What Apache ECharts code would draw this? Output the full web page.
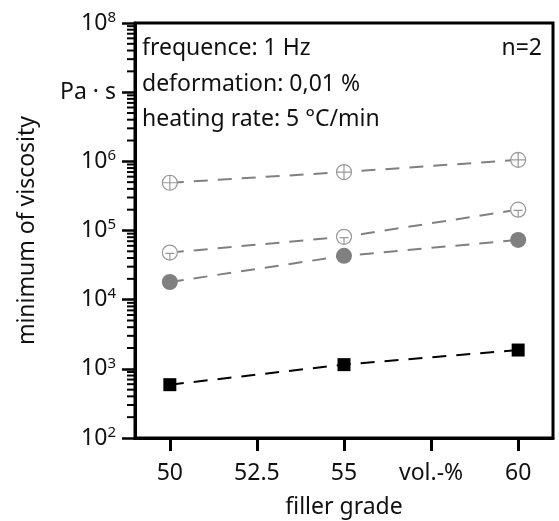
<!DOCTYPE html>
<html>
<head>
<meta charset="utf-8">
<script src="https://cdn.jsdelivr.net/npm/echarts@6/dist/echarts.min.js"></script>
<style>html,body{margin:0;padding:0;background:#fff}#c{width:559px;height:521px}</style>
</head>
<body>
<div id="c"></div>
<script>
// ---- data ----
var xValues = [50, 55, 60];
var crossedCircle = [4.9e5, 7.0e5, 1.05e6];
var openCircle = [4.8e4, 8.1e4, 2.0e5];
var filledCircle = [1.8e4, 4.3e4, 7.3e4];
var squares = [590, 1150, 1870];
var xTickValues = [50, 52.5, 55, 57.5, 60];
var xTickLabels = ['50', '52.5', '55', 'vol.-%', '60'];
var yTickLabels = {100: '10{sup|2}', 1000: '10{sup|3}', 10000: '10{sup|4}', 100000: '10{sup|5}', 1000000: '10{sup|6}', 10000000: 'Pa · s', 100000000: '10{sup|8}'};
var minorTickValues = [];
[100, 1000, 10000, 100000, 1000000, 10000000].forEach(function (d) {
  [2, 3, 4, 5, 6, 7, 8, 9].forEach(function (m) { minorTickValues.push(m * d); });
});
var annotations = ['frequence: 1 Hz', 'deformation: 0,01 %', 'heating rate: 5 °C/min'];

function pairs(vals) { return vals.map(function (v, i) { return [xValues[i], v]; }); }

var FONT = 'Noto Sans';
var FS = 23;
var TXT = '#111';
var GRAY = '#808080';
var crossPath = 'path://M0,10A10,10,0,1,1,20,10A10,10,0,1,1,0,10ZM10,0L10,20M0,10L20,10';
var tPath = 'path://M0,10A10,10,0,1,1,20,10A10,10,0,1,1,0,10ZM4,11L16,11M10,11L10,20';

var chart = echarts.init(document.getElementById('c'));
chart.setOption({
  animation: false,
  textStyle: { fontFamily: FONT },
  grid: { left: 135, right: 6, top: 23, bottom: 83, outerBoundsMode: 'none', containLabel: false,
    show: true, borderColor: '#000', borderWidth: 3, backgroundColor: 'transparent' },
  xAxis: {
    type: 'value', min: 49, max: 61,
    name: 'filler grade', nameLocation: 'middle', nameGap: 58,
    nameTextStyle: { fontSize: FS, color: TXT, fontFamily: FONT },
    axisLine: { show: true, lineStyle: { color: '#000', width: 3 } },
    axisTick: { show: true, length: 13, lineStyle: { color: '#000', width: 3 }, customValues: xTickValues },
    axisLabel: { customValues: xTickValues, margin: 24, fontSize: FS, color: TXT, fontFamily: FONT,
      formatter: function (v) { var i = xTickValues.indexOf(v); return i >= 0 ? xTickLabels[i] : ''; } },
    splitLine: { show: false }
  },
  yAxis: {
    type: 'log', logBase: 10, min: 100, max: 1e8,
    name: 'minimum of viscosity', nameLocation: 'middle', nameGap: 96,
    nameTextStyle: { fontSize: FS, color: TXT, fontFamily: FONT },
    axisLine: { show: true, lineStyle: { color: '#000', width: 3 } },
    axisTick: { show: true, length: 13, lineStyle: { color: '#000', width: 2.5 } },
    axisLabel: { margin: 19, fontSize: FS, color: TXT, fontFamily: FONT,
      formatter: function (v) { var k = Math.round(v); return yTickLabels[k] || ''; },
      rich: { sup: { fontSize: 15, padding: [0, 0, 11, 0], color: TXT, fontFamily: FONT } } },
    splitLine: { show: false }
  },
  graphic: annotations.map(function (t, i) {
    return { type: 'text', left: 142, top: 37 + i * 35.5, style: { text: t, fontSize: FS, fill: TXT, fontFamily: FONT } };
  }).concat([{ type: 'text', right: 17, top: 37, style: { text: 'n=2', fontSize: FS, fill: TXT, fontFamily: FONT } }]),
  series: [
    { type: 'line', data: pairs(crossedCircle), symbol: crossPath, symbolSize: 15,
      lineStyle: { color: GRAY, width: 2, type: [14, 10] },
      itemStyle: { color: '#fff', borderColor: '#999', borderWidth: 1.2 } },
    { type: 'line', data: pairs(openCircle), symbol: tPath, symbolSize: 15,
      lineStyle: { color: GRAY, width: 2, type: [14, 10] },
      itemStyle: { color: '#fff', borderColor: '#999', borderWidth: 1.2 } },
    { type: 'line', data: pairs(filledCircle), symbol: 'circle', symbolSize: 16,
      lineStyle: { color: GRAY, width: 2, type: [14, 10] },
      itemStyle: { color: GRAY } },
    { type: 'line', data: pairs(squares), symbol: 'rect', symbolSize: 13,
      lineStyle: { color: '#000', width: 2, type: [14, 10] },
      itemStyle: { color: '#000' } },
    { type: 'custom', data: minorTickValues, silent: true, clip: false, z: 10,
      encode: { y: 0 },
      renderItem: function (params, api) {
        var p = api.coord([49, api.value(0)]);
        return { type: 'line', shape: { x1: p[0] - 8, y1: p[1], x2: p[0], y2: p[1] }, style: { stroke: '#000', lineWidth: 2 } };
      } }
  ]
});
</script>
</body>
</html>
